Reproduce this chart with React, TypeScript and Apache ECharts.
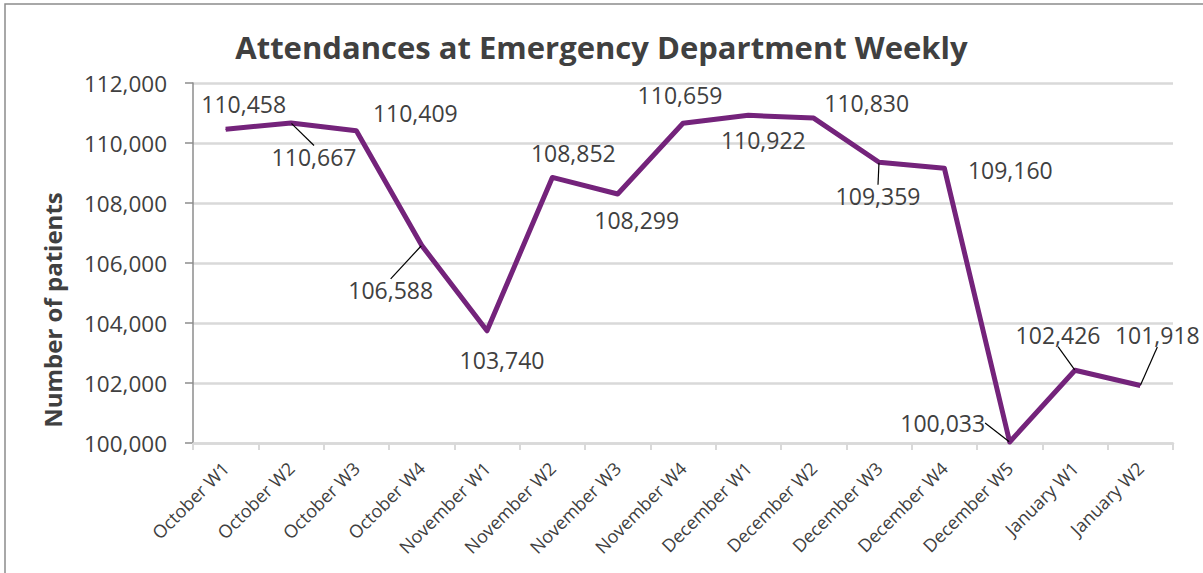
import React, { useEffect, useRef } from "react";
import * as echarts from "echarts";

const categories = [
  "October W1", "October W2", "October W3", "October W4",
  "November W1", "November W2", "November W3", "November W4",
  "December W1", "December W2", "December W3", "December W4", "December W5",
  "January W1", "January W2",
];
const attendances = [
  110458, 110667, 110409, 106588, 103740, 108852, 108299, 110659,
  110922, 110830, 109359, 109160, 100033, 102426, 101918,
];
const yTicks = { min: 100000, max: 112000, interval: 2000 };

// label placement (style): offset from point to label centre, and guide-line flag
const labelOffsets: [number, number][] = [
  [18, -25], [23, 34], [59, -18], [-31, 45], [15, 29], [21, -24], [19, 26], [-3, -28],
  [15, 25], [53, -15], [-1, 34], [66, 2], [-67, -19], [-17, -35], [17, -50],
];
const withGuide = [false, true, false, true, false, false, false, false, false, false, true, false, true, true, true];

const FONT = "'Open Sans', 'Noto Sans', sans-serif";
const TEXT = "#404040";
const PURPLE = "#74237b";

export default function App() {
  const ref = useRef<HTMLDivElement>(null);
  useEffect(() => {
    if (!ref.current) return;
    const chart = echarts.init(ref.current, undefined, { renderer: "svg" });
    const fmt = (v: number) => v.toLocaleString("en-US");
    chart.setOption({
      animation: false,
      backgroundColor: "#ffffff",
      textStyle: { fontFamily: FONT },
      title: {
        text: "Attendances at Emergency Department Weekly",
        left: "center",
        top: 26,
        textStyle: { fontFamily: FONT, fontWeight: "bold", fontSize: 31, color: TEXT },
      },
      grid: { left: 193, right: 30, top: 83, bottom: 130, containLabel: false },
      xAxis: {
        type: "category",
        data: categories,
        boundaryGap: true,
        axisLine: { show: true, lineStyle: { color: "#d9d9d9", width: 2.5 } },
        axisTick: { show: true, alignWithLabel: false, length: 7, lineStyle: { color: "#d9d9d9", width: 2 } },
        axisLabel: { rotate: 45, margin: 22, fontSize: 18, color: TEXT, fontFamily: FONT, interval: 0 },
      },
      yAxis: {
        type: "value",
        min: yTicks.min,
        max: yTicks.max,
        interval: yTicks.interval,
        axisLine: { show: true, lineStyle: { color: "#8c8c8c", width: 1.5 } },
        axisTick: { show: true, length: 8, lineStyle: { color: "#8c8c8c", width: 1.5 } },
        splitLine: { show: true, lineStyle: { color: "#d9d9d9", width: 2.5 } },
        axisLabel: { formatter: fmt, fontSize: 22.5, color: TEXT, fontFamily: FONT, margin: 26 },
      },
      series: [
        {
          type: "line",
          data: attendances.map((v, i) => ({
            value: v,
            labelLine: { show: withGuide[i], lineStyle: { color: "#000", width: 1.2 } },
          })),
          symbol: "circle",
          symbolSize: 1,
          showSymbol: true,
          itemStyle: { color: PURPLE },
          lineStyle: { color: PURPLE, width: 5, join: "round" },
          label: {
            show: true,
            position: "inside",
            formatter: (p: any) => fmt(p.value),
            fontSize: 23,
            color: TEXT,
            fontFamily: FONT,
          },
          labelLine: { show: false, lineStyle: { color: "#000", width: 1.2 } },
          labelLayout: (p: any) => ({ dx: labelOffsets[p.dataIndex][0], dy: labelOffsets[p.dataIndex][1] }),
        },
      ],
      graphic: [
        {
          type: "rect",
          shape: { x: 5, y: 4, width: 1400, height: 800 },
          style: { fill: "none", stroke: "#8c8c8c", lineWidth: 1.5 },
          silent: true,
        },
        {
          type: "text",
          x: 52,
          y: 310,
          rotation: Math.PI / 2,
          style: {
            text: "Number of patients",
            fontFamily: FONT,
            fontWeight: "bold",
            fontSize: 24,
            fill: TEXT,
            textAlign: "center",
            textVerticalAlign: "middle",
          },
        },
      ],
    });
    return () => chart.dispose();
  }, []);
  return <div ref={ref} style={{ position: "fixed", left: 0, top: 0, width: 1203, height: 573 }} />;
}
